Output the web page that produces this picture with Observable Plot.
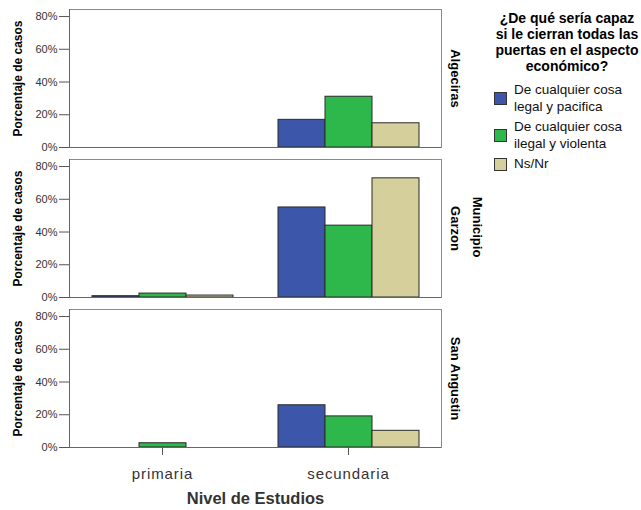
<!DOCTYPE html>
<html><head><meta charset="utf-8">
<script src="https://cdn.jsdelivr.net/npm/d3@7"></script>
<script src="https://cdn.jsdelivr.net/npm/@observablehq/plot@0.6"></script>
<style>
body{margin:0;background:#fff;font-family:"Liberation Sans",Arial,sans-serif;}
#wrap{position:relative;width:641px;height:510px;overflow:hidden;}
#wrap svg{position:absolute;left:0;top:0;}
g[aria-label="fx-axis label"] text{font-weight:bold;}
g[aria-label="fx-axis tick label"] text{letter-spacing:0.9px;}
#legend{position:absolute;left:488px;top:0;width:160px;height:200px;color:#000;}
#legend .title{position:absolute;top:10px;font-weight:bold;font-size:14px;line-height:16px;text-align:center;width:158px;}
#legend .item{position:absolute;left:0;padding-left:26px;font-size:13.5px;line-height:16.5px;color:#111;white-space:nowrap;}
#legend .sw{position:absolute;left:6px;width:11px;height:11px;border:1px solid #333;}
#muni{position:absolute;left:477px;top:227px;transform:translate(-50%,-50%) rotate(90deg);font-weight:bold;font-size:13px;white-space:nowrap;}
</style></head><body><div id="wrap"></div>
<script>
const municipios = ["Algeciras", "Garzon", "San Angustin"];
const niveles = ["primaria", "secundaria"];
const series = ["De cualquier cosa legal y pacifica", "De cualquier cosa ilegal y violenta", "Ns/Nr"];
const seriesLines = [["De cualquier cosa", "legal y pacifica"], ["De cualquier cosa", "ilegal y violenta"], ["Ns/Nr"]];
const colors = ["#3c56a9", "#2eb84b", "#d4cf9b"];
// values per nivel: [legal, ilegal, Ns/Nr] in %
const algeciras = [[0, 0, 0], [16.9, 31.0, 14.8]];
const garzon = [[0.8, 2.4, 1.2], [55.0, 43.9, 72.8]];
const sanAgustin = [[0, 2.6, 0], [25.8, 19.0, 10.2]];
const yTicks = [0, 20, 40, 60, 80];
const yLabel = "Porcentaje de casos";
const legendTitle = "¿De qué sería capaz si le cierran todas las puertas en el aspecto económico?";
const titleLines = ["¿De qué sería capaz", "si le cierran todas las", "puertas en el aspecto", "económico?"];

const byMuni = [algeciras, garzon, sanAgustin];
const rows = [];
municipios.forEach((m, mi) => niveles.forEach((n, ni) => series.forEach((s, si) => {
  const v = byMuni[mi][ni][si];
  if (v > 0) rows.push({municipio: m, nivel: n, serie: s, value: v});
})));

const font = '"Liberation Sans", Arial, sans-serif';
const frameColor = "#8a8a8a";
const chart = Plot.plot({
  width: 641, height: 510,
  marginLeft: 68, marginRight: 200, marginTop: 8, marginBottom: 63,
  style: {fontFamily: font, fontSize: "11px", color: "#333", background: "#fff"},
  x: {domain: series, axis: null, paddingInner: 0, paddingOuter: 0.456},
  fx: {domain: niveles, paddingInner: 0, paddingOuter: 0},
  fy: {domain: municipios, paddingInner: 0.08, paddingOuter: 0, axis: null},
  y: {domain: [0, 84.3]},
  color: {domain: series, range: colors},
  marks: [
    Plot.barY(rows, {fx: "nivel", fy: "municipio", x: "serie", y: "value", fill: "serie", stroke: "#2a2a2a", strokeWidth: 1}),
    Plot.frame({anchor: "top", stroke: frameColor}),
    Plot.frame({anchor: "bottom", stroke: "#666"}),
    Plot.frame({anchor: "left", fx: "primaria", stroke: "#666"}),
    Plot.frame({anchor: "right", fx: "secundaria", stroke: frameColor}),
    Plot.axisY({ticks: yTicks, tickFormat: d => d + "%", tickSize: 10, tickPadding: 2, fontSize: 11, stroke: "#555", label: null}),
    Plot.text(municipios, {fy: d => d, fx: () => "primaria", text: () => yLabel, frameAnchor: "left", textAnchor: "middle",
      rotate: -90, dx: -51, fontWeight: "bold", fontSize: 12, fill: "#000"}),
    Plot.text(municipios, {fy: d => d, fx: () => "secundaria", text: d => d, frameAnchor: "right", textAnchor: "middle",
      rotate: 90, dx: 14, fontWeight: "bold", fontSize: 13, fill: "#000"}),
    Plot.axisFx({anchor: "bottom", tickSize: 8, tickPadding: 13, fontSize: 15, stroke: "#555",
      label: "Nivel de Estudios", labelAnchor: "center", labelOffset: 56, labelArrow: "none"})
  ]
});
const wrap = document.getElementById("wrap");
wrap.appendChild(chart);
const fxLabel = chart.querySelector('g[aria-label="fx-axis label"]');
if (fxLabel) fxLabel.setAttribute("font-size", "16.5");

const legend = document.createElement("div");
legend.id = "legend";
legend.setAttribute("aria-label", legendTitle);
const t = document.createElement("div");
t.className = "title";
t.innerHTML = titleLines.join("<br>");
legend.appendChild(t);
const itemTops = [82, 119, 156];
series.forEach((s, i) => {
  const it = document.createElement("div");
  it.className = "item";
  it.style.top = itemTops[i] + "px";
  it.innerHTML = seriesLines[i].join("<br>");
  const sw = document.createElement("span");
  sw.className = "sw";
  sw.style.background = colors[i];
  sw.style.top = (seriesLines[i].length > 1 ? 10 : 2) + "px";
  it.appendChild(sw);
  legend.appendChild(it);
});
wrap.appendChild(legend);

const muni = document.createElement("div");
muni.id = "muni";
muni.textContent = "Municipio";
wrap.appendChild(muni);
</script></body></html>
